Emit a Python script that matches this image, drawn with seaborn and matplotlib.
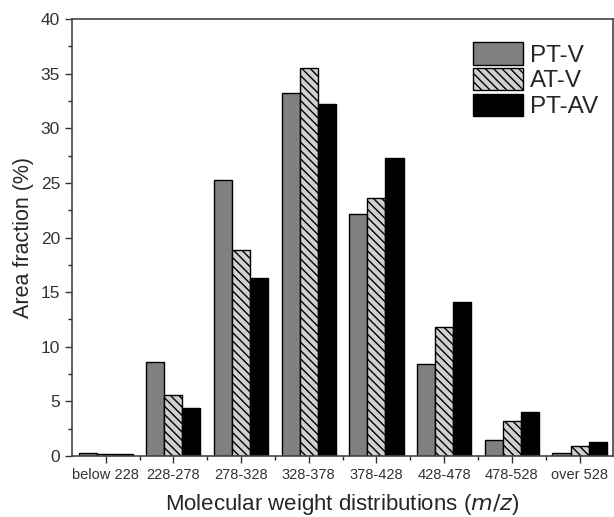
import numpy as np
import pandas as pd
import matplotlib
matplotlib.use("Agg")
import matplotlib.pyplot as plt
from matplotlib.ticker import MultipleLocator, FixedLocator
import seaborn as sns

categories = ["below 228", "228-278", "278-328", "328-378",
              "378-428", "428-478", "478-528", "over 528"]
series = ["PT-V", "AT-V", "PT-AV"]
pt_v = [0.3, 8.6, 25.3, 33.2, 22.2, 8.4, 1.5, 0.25]
at_v = [0.2, 5.6, 18.9, 35.5, 23.6, 11.8, 3.2, 0.9]
pt_av = [0.2, 4.4, 16.3, 32.2, 27.3, 14.1, 4.0, 1.3]


def main():
    sns.set_style("ticks")
    plt.rcParams['font.family'] = ['Liberation Sans', 'DejaVu Sans']
    plt.rcParams['hatch.color'] = '#555555'
    plt.rcParams['hatch.linewidth'] = 1.0

    data = pd.DataFrame({
        "group": categories * 3,
        "sample": ["PT-V"] * 8 + ["AT-V"] * 8 + ["PT-AV"] * 8,
        "value": pt_v + at_v + pt_av,
    })

    fig = plt.figure(figsize=(6.14, 5.17), dpi=100)
    ax = fig.add_axes([0.117, 0.118, 0.882, 0.845])

    colors = {"PT-V": "#808080", "AT-V": "#d0d0d0", "PT-AV": "#000000"}
    sns.barplot(data=data, x="group", y="value", hue="sample",
                hue_order=series, palette=colors, width=0.8,
                edgecolor="black", linewidth=1.0, saturation=1, ax=ax)

    # hatch the AT-V bars
    for bar in ax.containers[1]:
        bar.set_hatch("\\\\\\\\")

    ax.set_ylim(0, 40)
    ax.set_xlim(-0.5, 7.5)
    ax.yaxis.set_major_locator(MultipleLocator(5))
    ax.yaxis.set_minor_locator(MultipleLocator(2.5))
    ax.xaxis.set_minor_locator(FixedLocator(np.arange(0.5, 7.5, 1)))
    ax.tick_params(axis='y', which='major', length=5, width=1, labelsize=12.5, colors='#333333')
    ax.tick_params(axis='y', which='minor', length=3, width=1)
    ax.tick_params(axis='x', which='major', length=5, width=1, labelsize=10.5, colors='#333333')
    ax.tick_params(axis='x', which='minor', length=3, width=1)
    for sp in ax.spines.values():
        sp.set_visible(True)
        sp.set_color('#444444')
        sp.set_linewidth(1.2)

    ax.set_xlabel("Molecular weight distributions ($\\it{m/z}$)", fontsize=16, labelpad=7)
    ax.set_ylabel("Area fraction (%)", fontsize=15.5, labelpad=5)

    handles, labels = ax.get_legend_handles_labels()
    ax.legend(handles, labels, loc='upper right', bbox_to_anchor=(0.99, 0.97),
              frameon=False, fontsize=17.5, handlelength=2.05, handleheight=1.05,
              handletextpad=0.3, labelspacing=0.05, borderaxespad=0)
    for h in ax.get_legend().legend_handles:
        if h.get_label() == "AT-V":
            h.set_hatch("\\\\\\\\")

    fig.savefig("out.png", dpi=100)


if __name__ == "__main__":
    main()
